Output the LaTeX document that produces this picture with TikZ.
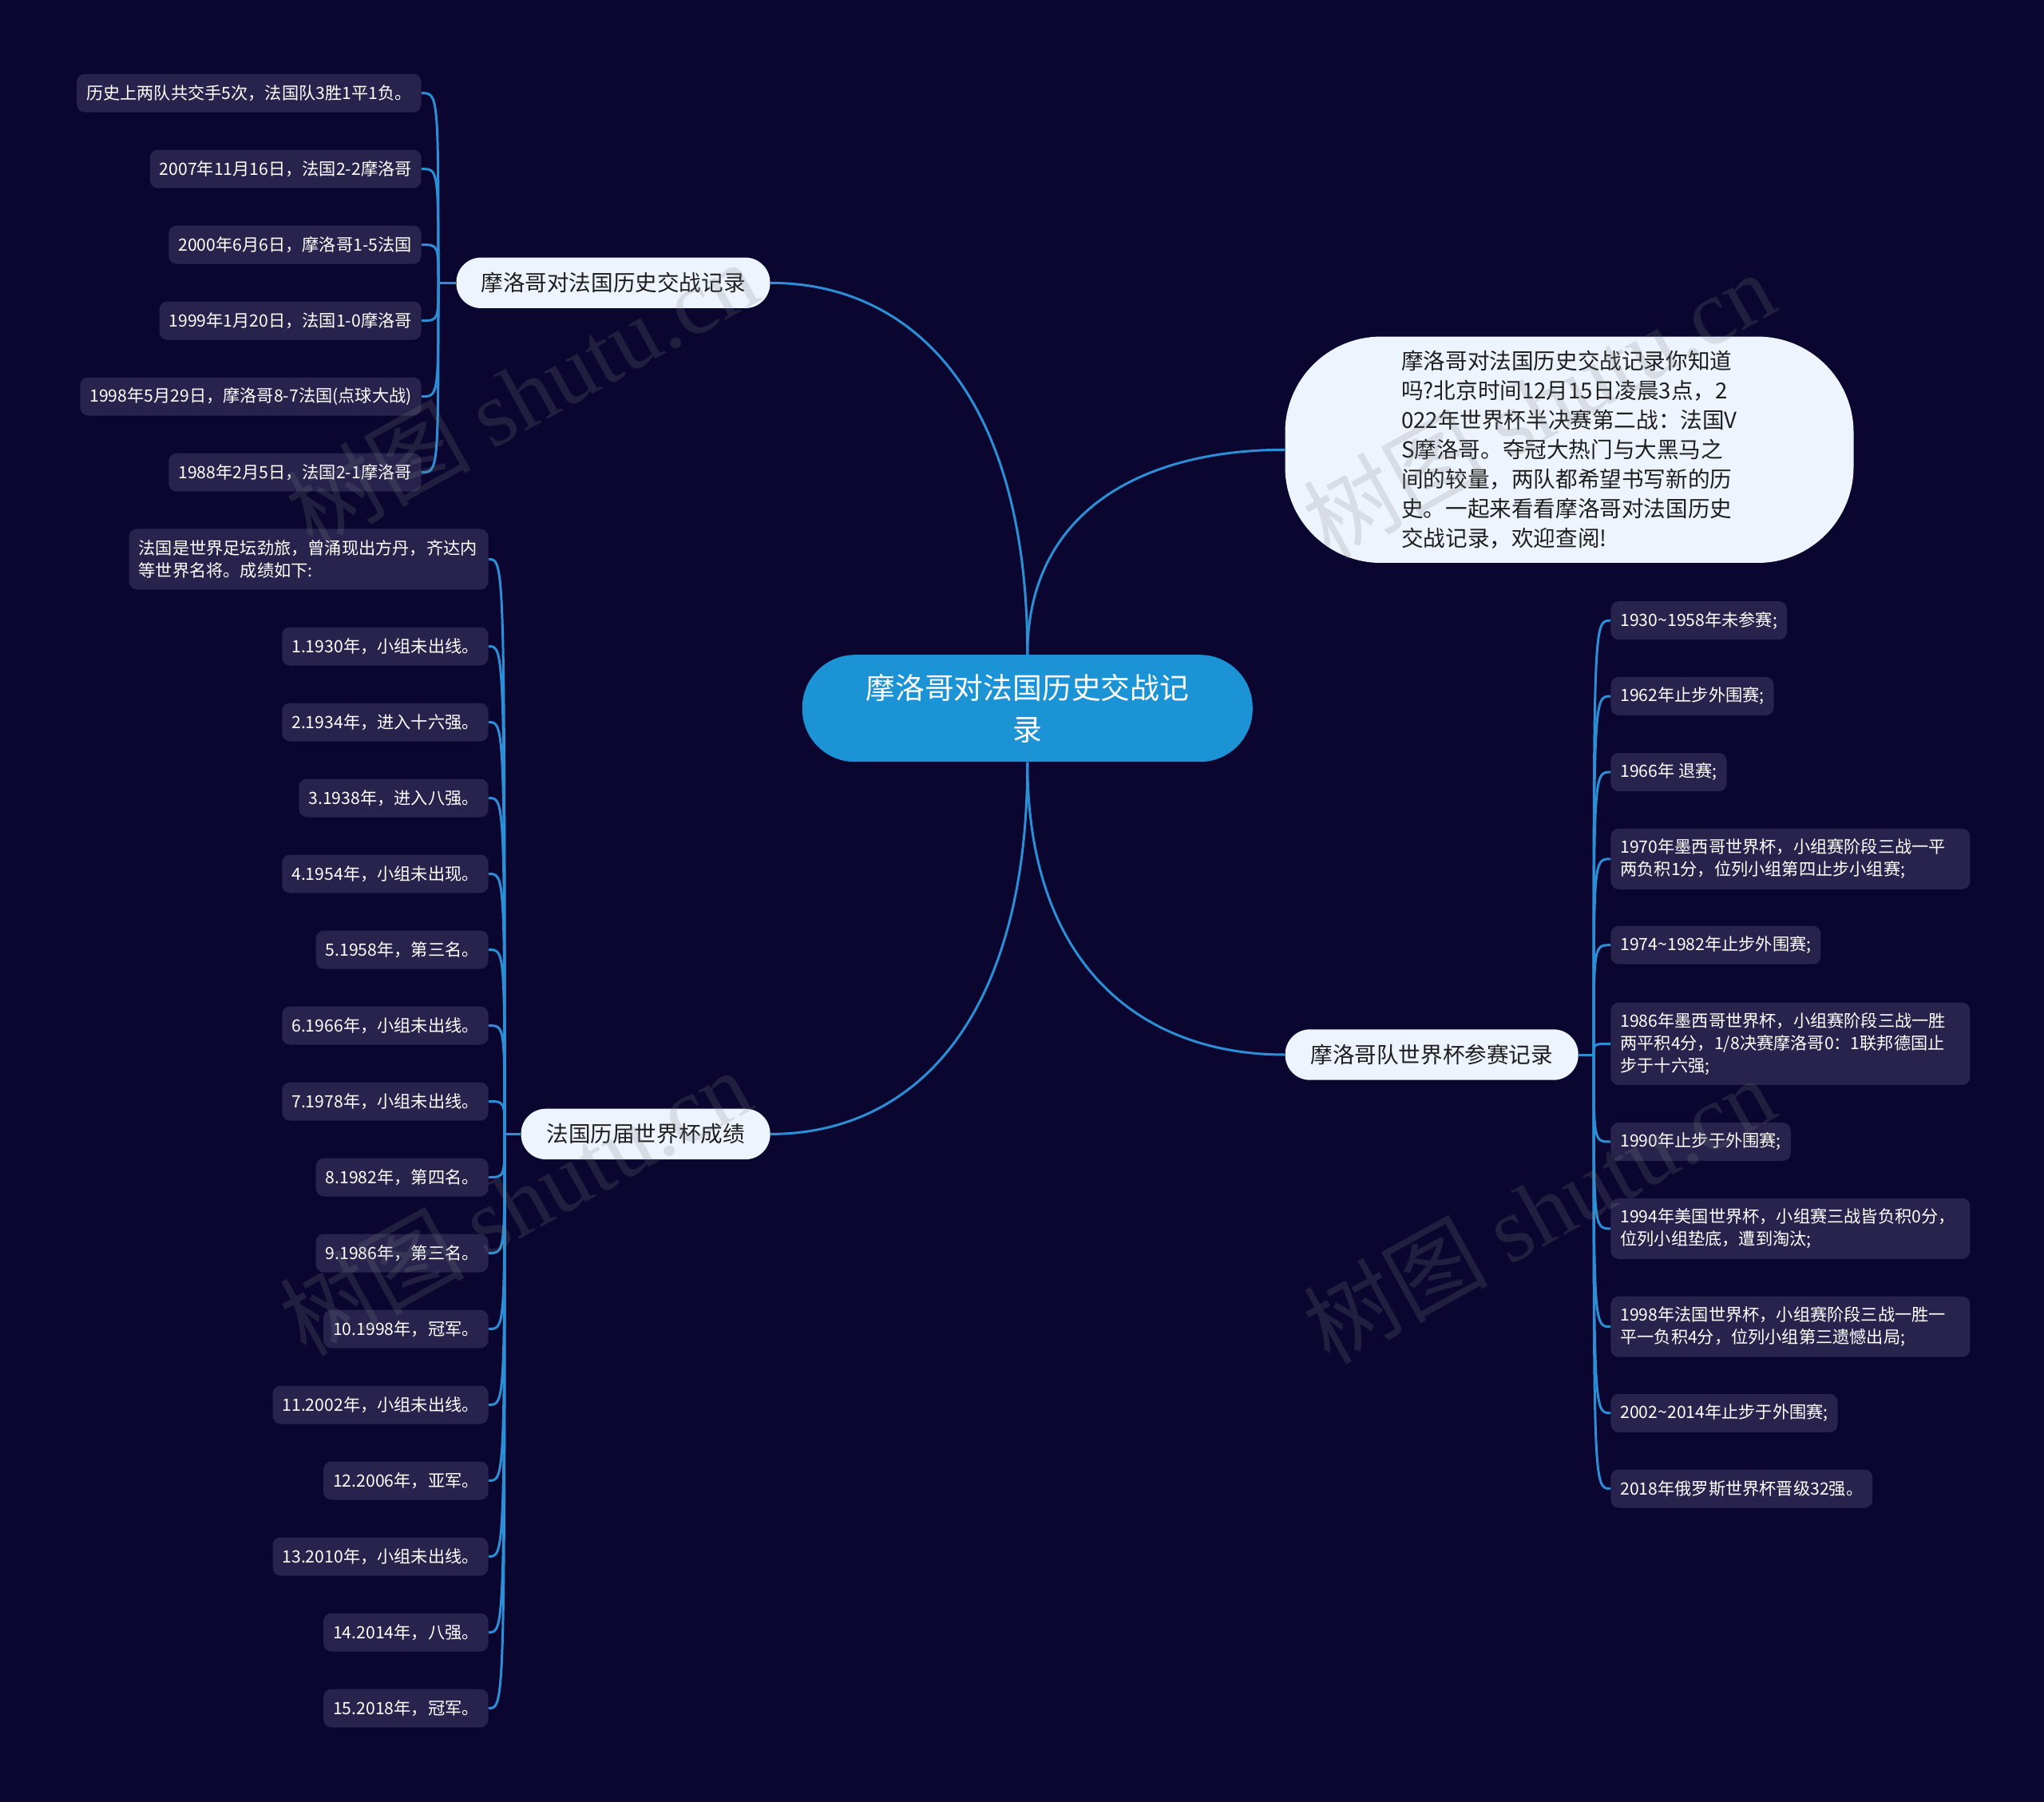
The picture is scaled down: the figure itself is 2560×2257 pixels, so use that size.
\documentclass[tikz,border=0pt]{standalone}
\usepackage{fontspec}
\setmainfont{Noto Sans CJK SC}
\newfontfamily\wmserif{Liberation Serif}
\usetikzlibrary{calc}
\definecolor{bgcol}{HTML}{0B0630}
\definecolor{linecol}{HTML}{2C8FD6}
\definecolor{centerfill}{HTML}{1B93D4}
\definecolor{branchfill}{HTML}{EEF4FD}
\definecolor{leaffill}{HTML}{27234D}
\definecolor{darktext}{HTML}{1E1E1E}
\begin{document}
\begin{tikzpicture}[x=0.5pt,y=-0.5pt,
  conn/.style={draw=linecol, line width=1.5pt},
  centerbox/.style={rectangle, rounded corners=33pt, fill=centerfill, text=white,
    font=\fontsize{18.4pt}{25.8pt}\selectfont, align=center,
    minimum width=282pt, minimum height=67pt, inner sep=0pt},
  branchbox/.style={rectangle, rounded corners=15.5pt, fill=branchfill, text=darktext,
    font=\fontsize{13.8pt}{18pt}\selectfont, minimum height=31.7pt, inner sep=0pt},
  descbox/.style={rectangle, rounded corners=60pt, fill=branchfill, text=darktext,
    font=\fontsize{13.8pt}{18.5pt}\selectfont, align=left,
    minimum width=356pt, minimum height=141.7pt, inner sep=0pt},
  leafbox/.style={rectangle, rounded corners=5pt, fill=leaffill, text=white,
    font=\fontsize{10.6pt}{14pt}\selectfont, inner xsep=6pt, inner ysep=0pt,
    minimum height=24pt},
  leafwide/.style={leafbox, align=left, text width=213pt},
  leaftwo/.style={leafwide, minimum height=38pt},
  leafthree/.style={leafwide, minimum height=51.6pt},
  wmark/.style={text=gray, opacity=0.2, rotate=29, font=\fontsize{58pt}{58pt}\selectfont, inner sep=0pt}
]
\useasboundingbox (0,0) rectangle (2560,2257);
\fill[bgcol] (0,0) rectangle (2560,2257);

% main nodes
\node[centerbox] (ctr) at (1286.8,887.2) {摩洛哥对法国历史交战记\\录};
\node[branchbox, minimum width=196.5pt] (b1) at (768,354.3) {摩洛哥对法国历史交战记录};
\node[descbox] (desc) at (1965.5,563.3) {摩洛哥对法国历史交战记录你知道\\吗?北京时间12月15日凌晨3点，2\\022年世界杯半决赛第二战：法国V\\S摩洛哥。夺冠大热门与大黑马之\\间的较量，两队都希望书写新的历\\史。一起来看看摩洛哥对法国历史\\交战记录，欢迎查阅!};
\node[branchbox, minimum width=183.5pt] (b3) at (1793.2,1321) {摩洛哥队世界杯参赛记录};
\node[branchbox, minimum width=156pt] (b4) at (808.6,1420.4) {法国历届世界杯成绩};

% trunk points
\coordinate (t1) at (549,354.3);
\coordinate (t3) at (1996,1321);
\coordinate (t4) at (632,1420.4);

% branch 1 leaves
\node[leafbox, anchor=east] (l1a) at (528,116.6) {历史上两队共交手5次，法国队3胜1平1负。};
\node[leafbox, anchor=east] (l1b) at (528,211.6) {2007年11月16日，法国2-2摩洛哥};
\node[leafbox, anchor=east] (l1c) at (528,306.6) {2000年6月6日，摩洛哥1-5法国};
\node[leafbox, anchor=east] (l1d) at (528,401.6) {1999年1月20日，法国1-0摩洛哥};
\node[leafbox, anchor=east] (l1e) at (528,496.6) {1998年5月29日，摩洛哥8-7法国(点球大战)};
\node[leafbox, anchor=east] (l1f) at (528,591.6) {1988年2月5日，法国2-1摩洛哥};

% branch 4 leaves
\node[leaftwo, anchor=east] (l4a) at (612,700.5) {法国是世界足坛劲旅，曾涌现出方丹，齐达内\\等世界名将。成绩如下:};
\node[leafbox, anchor=east] (l4b) at (612,809.5) {1.1930年，小组未出线。};
\node[leafbox, anchor=east] (l4c) at (612,904.5) {2.1934年，进入十六强。};
\node[leafbox, anchor=east] (l4d) at (612,999.5) {3.1938年，进入八强。};
\node[leafbox, anchor=east] (l4e) at (612,1094.5) {4.1954年，小组未出现。};
\node[leafbox, anchor=east] (l4f) at (612,1189.5) {5.1958年，第三名。};
\node[leafbox, anchor=east] (l4g) at (612,1284.5) {6.1966年，小组未出线。};
\node[leafbox, anchor=east] (l4h) at (612,1379.5) {7.1978年，小组未出线。};
\node[leafbox, anchor=east] (l4i) at (612,1474.5) {8.1982年，第四名。};
\node[leafbox, anchor=east] (l4j) at (612,1569.5) {9.1986年，第三名。};
\node[leafbox, anchor=east] (l4k) at (612,1664.5) {10.1998年，冠军。};
\node[leafbox, anchor=east] (l4l) at (612,1759.5) {11.2002年，小组未出线。};
\node[leafbox, anchor=east] (l4m) at (612,1854.5) {12.2006年，亚军。};
\node[leafbox, anchor=east] (l4n) at (612,1949.5) {13.2010年，小组未出线。};
\node[leafbox, anchor=east] (l4o) at (612,2044.5) {14.2014年，八强。};
\node[leafbox, anchor=east] (l4p) at (612,2139.5) {15.2018年，冠军。};

% branch 3 leaves
\node[leafbox, anchor=west] (l3a) at (2017,777.2) {1930\textasciitilde1958年未参赛;};
\node[leafbox, anchor=west] (l3b) at (2017,872) {1962年止步外围赛;};
\node[leafbox, anchor=west] (l3c) at (2017,967) {1966年 退赛;};
\node[leaftwo, anchor=west] (l3d) at (2017,1075.8) {1970年墨西哥世界杯，小组赛阶段三战一平\\两负积1分，位列小组第四止步小组赛;};
\node[leafbox, anchor=west] (l3e) at (2017,1183.7) {1974\textasciitilde1982年止步外围赛;};
\node[leafthree, anchor=west] (l3f) at (2017,1307.3) {1986年墨西哥世界杯，小组赛阶段三战一胜\\两平积4分，1/8决赛摩洛哥0：1联邦德国止\\步于十六强;};
\node[leafbox, anchor=west] (l3g) at (2017,1430) {1990年止步于外围赛;};
\node[leaftwo, anchor=west] (l3h) at (2017,1538.8) {1994年美国世界杯，小组赛三战皆负积0分，\\位列小组垫底，遭到淘汰;};
\node[leaftwo, anchor=west] (l3i) at (2017,1661.7) {1998年法国世界杯，小组赛阶段三战一胜一\\平一负积4分，位列小组第三遗憾出局;};
\node[leafbox, anchor=west] (l3j) at (2017,1769.8) {2002\textasciitilde2014年止步于外围赛;};
\node[leafbox, anchor=west] (l3k) at (2017,1864.5) {2018年俄罗斯世界杯晋级32强。};

% main connectors
\begin{scope}[on background layer/.style={}]
\draw[conn] (ctr.north) .. controls +(0,-326) and +(177,0) .. (b1.east);
\draw[conn] (ctr.north) .. controls +(0,-180) and +(-178,0) .. (desc.west);
\draw[conn] (ctr.south) .. controls +(0,257) and +(-178,0) .. (b3.west);
\draw[conn] (ctr.south) .. controls +(0,326) and +(177,0) .. (b4.east);
\end{scope}

% branch trunks
\draw[conn] (b1.west) -- (t1);
\draw[conn] (b3.east) -- (t3);
\draw[conn] (b4.west) -- (t4);

\foreach \l in {l1a,l1b,l1c,l1d,l1e,l1f}{
  \draw[conn] (t1) .. controls (t1 |- \l.east) and (t1 |- \l.east) .. (\l.east);
}
\foreach \l in {l4a,l4b,l4c,l4d,l4e,l4f,l4g,l4h,l4i,l4j,l4k,l4l,l4m,l4n,l4o,l4p}{
  \draw[conn] (t4) .. controls (t4 |- \l.east) and (t4 |- \l.east) .. (\l.east);
}
\foreach \l in {l3a,l3b,l3c,l3d,l3e,l3f,l3g,l3h,l3i,l3j,l3k}{
  \draw[conn] (t3) .. controls (t3 |- \l.west) and (t3 |- \l.west) .. (\l.west);
}

% watermarks
\node[wmark] (wm1) at (653,493) {树图 {\wmserif shutu.cn}};
\node[wmark] (wm2) at (645,1505) {树图 {\wmserif shutu.cn}};
\node[wmark] (wm3) at (1927,506) {树图 {\wmserif shutu.cn}};
\node[wmark] (wm4) at (1927,1515) {树图 {\wmserif shutu.cn}};
\end{tikzpicture}
\end{document}
